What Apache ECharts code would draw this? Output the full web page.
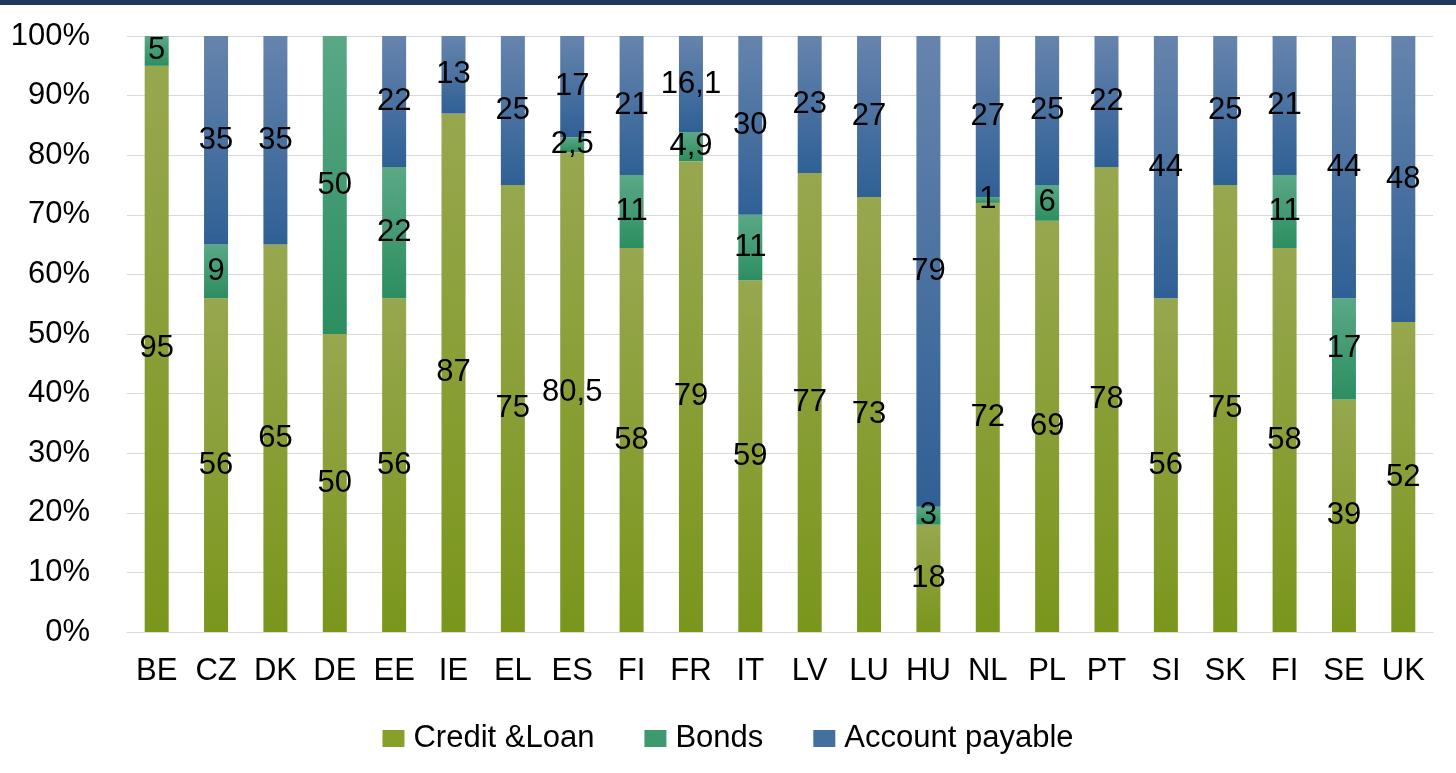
<!DOCTYPE html>
<html>
<head>
<meta charset="utf-8">
<script src="https://cdn.jsdelivr.net/npm/echarts@6/dist/echarts.min.js"></script>
<style>
  html, body { margin: 0; padding: 0; background: #ffffff; }
  #chart-container { width: 1456px; height: 773px; }
</style>
</head>
<body>
<div id="chart-container"></div>
<script>
const countries = ['BE', 'CZ', 'DK', 'DE', 'EE', 'IE', 'EL', 'ES', 'FI', 'FR', 'IT', 'LV', 'LU', 'HU', 'NL', 'PL', 'PT', 'SI', 'SK', 'FI', 'SE', 'UK'];
const creditLoan = [95, 56, 65, 50, 56, 87, 75, 80.5, 58, 79, 59, 77, 73, 18, 72, 69, 78, 56, 75, 58, 39, 52];
const bonds = [5, 9, 0, 50, 22, 0, 0, 2.5, 11, 4.9, 11, 0, 0, 3, 1, 6, 0, 0, 0, 11, 17, 0];
const accountPayable = [0, 35, 35, 0, 22, 13, 25, 17, 21, 16.1, 30, 23, 27, 79, 27, 25, 22, 44, 25, 21, 44, 48];
const yTicks = [0, 10, 20, 30, 40, 50, 60, 70, 80, 90, 100];

const chartContainer = document.getElementById('chart-container');
const myChart = echarts.init(chartContainer);

const totals = countries.map((c, i) => creditLoan[i] + bonds[i] + accountPayable[i]);

// stack shares of 100%, label keeps the raw value
const toShare = (arr) => arr.map((v, i) => ({
    value: v / totals[i] * 100,
    raw: v
}));

const grad = (top, bottom) => new echarts.graphic.LinearGradient(0, 0, 0, 1, [
    { offset: 0, color: top },
    { offset: 1, color: bottom }
]);

const fontFamily = '"Liberation Sans", Arial, sans-serif';
const fontSize = 31;

const makeSeries = (name, arr, top, bottom) => ({
    name: name,
    type: 'bar',
    stack: 'total',
    barWidth: 24,
    itemStyle: {
        color: grad(top, bottom)
    },
    label: {
        show: true,
        position: 'inside',
        color: '#000000',
        fontSize: fontSize,
        fontFamily: fontFamily,
        formatter: function (p) {
            if (!p.data.raw) return '';
            return String(p.data.raw).replace('.', ',');
        }
    },
    data: toShare(arr)
});

const options = {
    backgroundColor: '#ffffff',
    animation: false,
    graphic: [{
        type: 'rect',
        shape: { x: 0, y: 0, width: 1456, height: 5 },
        style: { fill: '#1f3a58' }
    }],
    legend: {
        top: 718,
        left: 'center',
        itemWidth: 22,
        itemHeight: 17,
        itemGap: 50,
        icon: 'rect',
        textStyle: {
            fontSize: fontSize,
            fontFamily: fontFamily,
            color: '#000000',
            padding: [0, 0, 0, 4]
        },
        data: [
            { name: 'Credit &Loan', itemStyle: { color: '#86a12a' } },
            { name: 'Bonds', itemStyle: { color: '#3d9a6f' } },
            { name: 'Account payable', itemStyle: { color: '#44709f' } }
        ]
    },
    grid: {
        left: 127,
        right: 23,
        top: 36,
        bottom: 141,
        containLabel: false
    },
    xAxis: {
        type: 'category',
        data: countries,
        axisLine: { lineStyle: { color: '#d9d9d9', width: 1 } },
        axisTick: { show: false },
        axisLabel: {
            interval: 0,
            margin: 24,
            fontSize: fontSize,
            fontFamily: fontFamily,
            color: '#000000'
        }
    },
    yAxis: {
        type: 'value',
        min: yTicks[0],
        max: yTicks[yTicks.length - 1],
        interval: 10,
        axisLine: { show: false },
        axisTick: { show: false },
        axisLabel: {
            margin: 37,
            fontSize: fontSize,
            fontFamily: fontFamily,
            color: '#000000',
            formatter: '{value}%'
        },
        splitLine: {
            show: true,
            lineStyle: { color: '#d9d9d9', width: 1 }
        }
    },
    series: [
        makeSeries('Credit &Loan', creditLoan, '#97a74f', '#7a961c'),
        makeSeries('Bonds', bonds, '#5aa886', '#2c8e60'),
        makeSeries('Account payable', accountPayable, '#6684ad', '#2f6095')
    ]
};

myChart.setOption(options);

window.addEventListener('resize', function () {
    myChart.resize();
});
</script>
</body>
</html>
